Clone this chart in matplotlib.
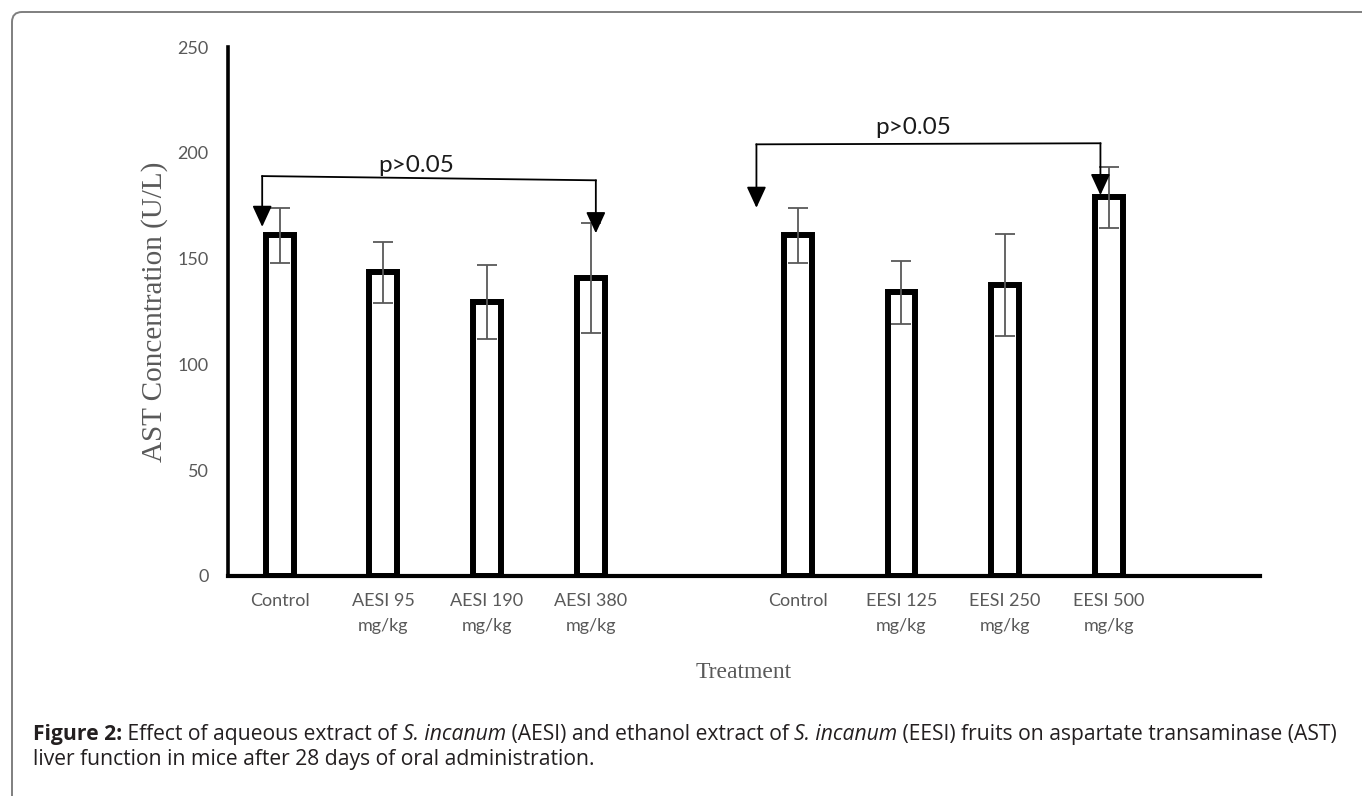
import numpy as np
import matplotlib.pyplot as plt
from matplotlib.patches import FancyBboxPatch
from matplotlib.transforms import IdentityTransform

# Данные
labels = ['Control', 'AESI 95\nmg/kg', 'AESI 190\nmg/kg', 'AESI 380\nmg/kg',
          'Control', 'EESI 125\nmg/kg', 'EESI 250\nmg/kg', 'EESI 500\nmg/kg']
positions = [0, 1, 2, 3, 5, 6, 7, 8]
ast_mean = [161, 143.5, 129.5, 141, 161, 134, 137.5, 179]
ast_err = [13, 14.5, 17.5, 26, 13, 15, 24, 14.5]
yticks = [0, 50, 100, 150, 200, 250]

# Скобки p>0.05: (x_left, y_left, x_right, y_right, tip_left, tip_right)
brackets = [(-0.17, 189, 3.05, 187, 165, 162),
            (4.60, 204, 7.92, 204.5, 174, 180)]
p_text = [(1.32, 194), (6.11, 212)]

gray = '#595959'


def caption_line(fig, x, y, parts, size):
    r = fig.canvas.get_renderer()
    for s, kw in parts:
        t = fig.text(x, y, s, fontsize=size, family='Open Sans', color='#231f20',
                     va='baseline', ha='left', transform=IdentityTransform(), **kw)
        x = t.get_window_extent(renderer=r).x1


def main():
    fig = plt.figure(figsize=(13.62, 7.96), dpi=100)
    ax = fig.add_axes([228 / 1362, 1 - 576 / 796, (1260 - 228) / 1362, (576 - 47) / 796])

    ax.bar(positions, ast_mean, width=0.27, color='white', edgecolor='black',
           linewidth=4.3, zorder=2)
    ax.errorbar(positions, ast_mean, yerr=ast_err, fmt='none', ecolor=gray,
                elinewidth=1.3, capsize=7, capthick=1.3, zorder=3)

    head = dict(arrowstyle='-|>,head_length=0.65,head_width=0.3', mutation_scale=20,
                color='black', lw=1.3, shrinkA=0, shrinkB=0)
    for (xl, yl, xr, yr, tl, tr) in brackets:
        ax.plot([xl, xr], [yl, yr], color='black', lw=1.3, zorder=4)
        ax.annotate('', xy=(xl, tl), xytext=(xl, yl), arrowprops=head)
        ax.annotate('', xy=(xr, tr), xytext=(xr, yr), arrowprops=head)
    for (x, y) in p_text:
        ax.text(x, y, 'p>0.05', ha='center', va='center', fontsize=17.5,
                family='Lato', color='#1a1a1a')

    ax.set_xlim(-0.5, 9.46)
    ax.set_ylim(0, 250)
    ax.set_xticks(positions)
    ax.set_xticklabels(labels, family='Lato', fontsize=13, color=gray, linespacing=1.75)
    ax.set_yticks(yticks)
    ax.set_yticklabels([str(v) for v in yticks], family='Lato', fontsize=13, color=gray)
    ax.tick_params(length=0, pad=14)
    ax.tick_params(axis='x', pad=12)
    for s in ['top', 'right']:
        ax.spines[s].set_visible(False)
    ax.spines['left'].set_linewidth(2.6)
    ax.spines['bottom'].set_linewidth(3)

    ax.set_ylabel('AST Concentration (U/L)', family='Liberation Serif', fontsize=21,
                  color=gray, labelpad=7)
    ax.set_xlabel('Treatment', family='Liberation Serif', fontsize=17, color=gray,
                  labelpad=20)

    # Рамка
    fig.patches.append(FancyBboxPatch((12, -60), 1500, 796 - 12 + 60,
                                      boxstyle='round,pad=0,rounding_size=10',
                                      transform=IdentityTransform(), fill=False,
                                      edgecolor='#7f7f7f', lw=1.4))

    size = 15.2
    caption_line(fig, 33, 796 - 740, [
        ('Figure 2:', dict(weight='bold')),
        (' Effect of aqueous extract of ', {}),
        ('S. incanum', dict(style='italic')),
        (' (AESI) and ethanol extract of ', {}),
        ('S. incanum', dict(style='italic')),
        (' (EESI) fruits on aspartate transaminase (AST)', {}),
    ], size)
    caption_line(fig, 33, 796 - 765, [
        ('liver function in mice after 28 days of oral administration.', {}),
    ], size)

    fig.savefig('out.png', dpi=100)


if __name__ == "__main__":
    main()
